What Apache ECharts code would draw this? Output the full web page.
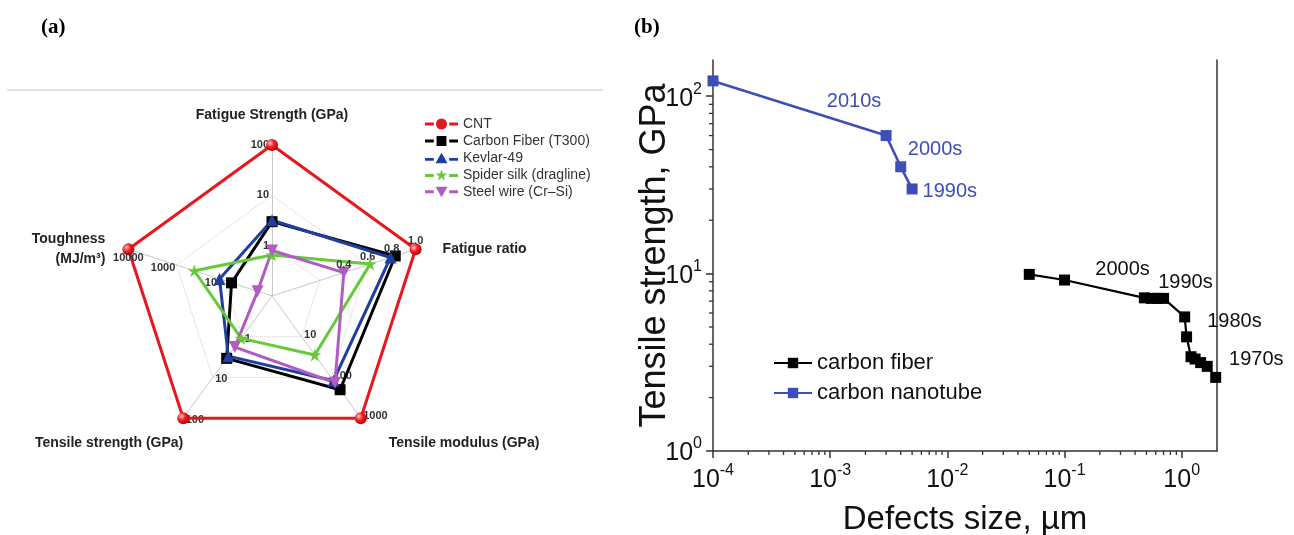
<!DOCTYPE html>
<html>
<head>
<meta charset="utf-8">
<script src="https://cdn.jsdelivr.net/npm/echarts@6/dist/echarts.min.js"></script>
<style>
html,body{margin:0;padding:0;background:#fff;}
#main{width:1294px;height:535px;}
</style>
</head>
<body>
<div id="main"></div>
<script>
//(a) 雷达图数据
var radarNames = ['Fatigue Strength (GPa)', 'Toughness\n(MJ/m³)', 'Tensile strength (GPa)', 'Tensile modulus (GPa)', 'Fatigue ratio'];
var radarIsLog = [true, true, true, true, false];
var radarMin = [0.1, 10, 0.1, 1, -0.2];
var radarMax = [100, 10000, 100, 1000, 1.0];
var materialNames = ['CNT', 'Carbon Fiber (T300)', 'Kevlar-49', 'Spider silk (dragline)', 'Steel wire (Cr–Si)'];
var cntValues = [100, 10000, 100, 1000, 1.0];
var carbonFiberValues = [3.0, 70, 3.4, 200, 0.83];
var kevlarValues = [3.2, 125, 3.0, 120, 0.79];
var spiderSilkValues = [0.65, 420, 1.1, 28, 0.62];
var steelWireValues = [0.8, 20, 1.8, 135, 0.4];
var ratioTicks = [0.4, 0.6, 0.8, 1.0];
var toughnessTopTick = 10000;

//(b) 折线图数据
var fiberX = [0.05, 0.1, 0.48, 0.55, 0.62, 0.7, 1.06, 1.1, 1.2, 1.3, 1.45, 1.65, 1.95];
var fiberY = [9.9, 9.2, 7.3, 7.25, 7.25, 7.25, 5.7, 4.4, 3.4, 3.3, 3.15, 3.0, 2.6];
var tubeX = [1e-4, 3e-3, 4e-3, 5e-3];
var tubeY = [122, 60, 40, 30];
var tubeDecades = ['2010s', '2000s', '1990s'];
var tubeDecadeX = [1.6e-3, 7.85e-3, 1.05e-2];
var tubeDecadeY = [93, 50, 29];
var fiberDecades = ['2000s', '1990s', '1980s', '1970s'];
var fiberDecadeX = [0.313, 1.075, 2.82, 4.33];
var fiberDecadeY = [10.6, 8.95, 5.36, 3.27];
var xTickValues = [1e-4, 1e-3, 1e-2, 1e-1, 1];
var yTickValues = [1, 10, 100];

//颜色
var colors = ['#e8161d', '#000000', '#1f3f9e', '#66c93a', '#b05cc0'];
var tubeColor = '#3d4fb6';

//各轴名称的摆放
var nameLayouts = [
    {align: 'center', verticalAlign: 'bottom', padding: [0, 0, 23, 0]},
    {align: 'right', verticalAlign: 'middle', lineHeight: 20, padding: [0, 23, 12, 0]},
    {align: 'right', verticalAlign: 'top', padding: [18, 0, 0, 0]},
    {align: 'left', verticalAlign: 'top', padding: [18, 0, 0, 28]},
    {align: 'left', verticalAlign: 'middle', padding: [0, 0, 8, 27]}
];

function toAxis(i, v) {
    return radarIsLog[i] ? Math.log10(v) : v;
}
function toRadar(values) {
    return values.map(function (v, i) { return toAxis(i, v); });
}
function powLabel(v) {
    var n = Math.pow(10, v);
    return n >= 1 ? String(Math.round(n)) : String(+n.toFixed(2));
}

//图例图标 (线-符号-线)
var legendIcons = [
    'path://M0,4.2h8v2.6H0z M22,4.2h8v2.6h-8z M10,5.5a5,5 0 1,0 10,0a5,5 0 1,0 -10,0z',
    'path://M0,4.2h8v2.6H0z M22,4.2h8v2.6h-8z M10.5,1h9v9h-9z',
    'path://M0,5.2h8v2.6H0z M22,5.2h8v2.6h-8z M15,0.5L20.5,10H9.5z',
    'path://M0,4.2h8v2.6H0z M22,4.2h8v2.6h-8z M15,0L16.3,3.7L20.3,3.7L17.1,6.1L18.3,10L15,7.6L11.7,10L12.9,6.1L9.7,3.7L13.7,3.7z',
    'path://M0,3.2h8v2.6H0z M22,3.2h8v2.6h-8z M9.5,0h11L15,9.5z'
];
var symbols = [
    'circle',
    'rect',
    'triangle',
    'path://M5,0L6.2,3.6L10,3.6L6.9,5.8L8.1,9.5L5,7.2L1.9,9.5L3.1,5.8L0,3.6L3.8,3.6z',
    'path://M0,0L10,0L5,9z'
];
var symbolSizes = [12, 11, 12, 13, 12];
var materialValues = [cntValues, carbonFiberValues, kevlarValues, spiderSilkValues, steelWireValues];

var myChart = echarts.init(document.getElementById('main'));

var indicators = radarNames.map(function (n, i) {
    return {
        name: n,
        min: toAxis(i, radarMin[i]),
        max: toAxis(i, radarMax[i]),
        nameGap: 0,
        nameMoveOverlap: false,
        nameTextStyle: nameLayouts[i],
        axisLabel: {show: radarIsLog[i], showMaxLabel: i !== 1, formatter: powLabel}
    };
});

var materialData = materialNames.map(function (n, i) {
    return {
        name: n,
        value: toRadar(materialValues[i]),
        symbol: symbols[i],
        symbolSize: symbolSizes[i],
        itemStyle: {
            color: i === 0 ? {
                type: 'radial', x: 0.35, y: 0.35, r: 0.75,
                colorStops: [{offset: 0, color: '#ffc4c4'}, {offset: 0.45, color: '#f01c22'}, {offset: 1, color: '#a80000'}]
            } : colors[i]
        },
        lineStyle: {color: colors[i], width: 3}
    };
});

//单独摆放的刻度标签 (隐藏的雷达序列), dim 为要显示的那一维
var centerValues = radarMin.map(function (v, i) { return toAxis(i, v); });
var tickLabelData = ratioTicks.map(function (t) {
    var v = centerValues.slice();
    v[4] = t;
    return {value: v, dim: 4, text: t.toFixed(1)};
});
(function () {
    var v = centerValues.slice();
    v[1] = toAxis(1, toughnessTopTick);
    tickLabelData.push({value: v, dim: 1, text: String(toughnessTopTick), label: {position: 'bottom', distance: 3}});
})();

function supLabel(v) {
    var e = Math.round(Math.log10(v));
    return '{b|10}{s|' + e + '}';
}
var supRich = {
    b: {fontSize: 25, color: '#111', fontFamily: 'Arial', lineHeight: 30, verticalAlign: 'bottom'},
    s: {fontSize: 16, color: '#111', fontFamily: 'Arial', lineHeight: 16, verticalAlign: 'top'}
};

//次刻度
var minorTicks = [];
[1e-4, 1e-3, 1e-2, 1e-1].forEach(function (d) {
    for (var k = 2; k <= 9; k++) minorTicks.push([k * d, 1, 0]);
});
[1, 10].forEach(function (d) {
    for (var k = 2; k <= 9; k++) minorTicks.push([1e-4, k * d, 1]);
});

var option = {
    animation: false,
    backgroundColor: '#ffffff',
    title: [
        {text: '(a)', left: 36, top: 12, textStyle: {fontFamily: 'Liberation Serif', fontWeight: 'bold', fontSize: 21, color: '#000'}},
        {text: '(b)', left: 629, top: 12, textStyle: {fontFamily: 'Liberation Serif', fontWeight: 'bold', fontSize: 21, color: '#000'}}
    ],
    graphic: [
        {type: 'line', shape: {x1: 7, y1: 90, x2: 603, y2: 90}, style: {stroke: '#c8c8c8', lineWidth: 1.2}}
    ],
    legend: [
        {
            data: materialNames.map(function (n, i) {
                return {name: n, icon: legendIcons[i], itemStyle: {color: colors[i]}};
            }),
            orient: 'vertical', left: 420, top: 112,
            itemWidth: 33, itemHeight: 11, itemGap: 3,
            textStyle: {fontSize: 14, fontFamily: 'Arial', color: '#333'}
        },
        {
            data: ['carbon fiber', 'carbon nanotube'],
            orient: 'vertical', left: 768, top: 347,
            itemWidth: 38, itemHeight: 13, itemGap: 8,
            textStyle: {fontSize: 22, fontFamily: 'Arial', color: '#111'}
        }
    ],
    radar: {
        center: [272, 296],
        radius: 151,
        startAngle: 90,
        splitNumber: 3,
        shape: 'polygon',
        indicator: indicators,
        axisName: {color: '#222', fontSize: 14, fontWeight: 'bold', fontFamily: 'Arial'},
        axisLine: {lineStyle: {color: '#c9c9c9', width: 1}},
        axisTick: {show: false},
        axisLabel: {show: false, showMinLabel: false, fontSize: 11, fontWeight: 'bold', color: '#333', fontFamily: 'Arial', margin: 3},
        splitLine: {lineStyle: {color: '#cfcfcf', type: 'dotted', width: 1}},
        splitArea: {show: false}
    },
    grid: {left: 713, right: 77, top: 60, bottom: 84, outerBoundsMode: 'none'},
    xAxis: {
        type: 'log', logBase: 10, min: 1e-4, max: 2,
        axisLine: {lineStyle: {color: '#333', width: 1.5}},
        axisTick: {length: 7, lineStyle: {color: '#333', width: 1.5}, customValues: xTickValues},
        axisLabel: {formatter: supLabel, rich: supRich, margin: 12, customValues: xTickValues},
        splitLine: {show: false},
        name: 'Defects size, µm', nameLocation: 'middle', nameGap: 52,
        nameTextStyle: {fontSize: 33, fontFamily: 'Arial', color: '#111'}
    },
    yAxis: [
        {
            type: 'log', logBase: 10, min: 1, max: 160,
            axisLine: {lineStyle: {color: '#333', width: 1.5}},
            axisTick: {length: 7, lineStyle: {color: '#333', width: 1.5}, customValues: yTickValues},
            axisLabel: {formatter: supLabel, rich: supRich, margin: 11, customValues: yTickValues},
            splitLine: {show: false},
            name: 'Tensile strength, GPa', nameLocation: 'middle', nameGap: 40, nameMoveOverlap: false,
            nameTextStyle: {fontSize: 36, fontFamily: 'Arial', color: '#111'}
        },
        {
            type: 'log', logBase: 10, min: 1, max: 160, position: 'right',
            axisLine: {show: true, lineStyle: {color: '#333', width: 1.5}},
            axisTick: {show: false}, axisLabel: {show: false}, splitLine: {show: false}
        }
    ],
    series: [
        {
            type: 'radar',
            name: 'tick labels',
            silent: true,
            symbol: 'circle',
            symbolSize: 1,
            itemStyle: {color: 'rgba(0,0,0,0)'},
            lineStyle: {width: 0, opacity: 0},
            label: {
                show: true, position: 'top', distance: 2,
                fontSize: 11, fontWeight: 'bold', color: '#333', fontFamily: 'Arial',
                formatter: function (p) {
                    return p.dimensionIndex === p.data.dim ? p.data.text : '';
                }
            },
            data: tickLabelData
        },
        {
            type: 'radar',
            name: 'materials',
            data: materialData
        },
        {
            type: 'custom',
            name: 'minor ticks',
            silent: true,
            clip: false,
            renderItem: function (params, api) {
                var p = api.coord([api.value(0), api.value(1)]);
                var shape = api.value(2) === 0
                    ? {x1: p[0], y1: p[1], x2: p[0], y2: p[1] + 4}
                    : {x1: p[0] - 4, y1: p[1], x2: p[0], y2: p[1]};
                return {type: 'line', shape: shape, style: {stroke: '#333', lineWidth: 1.3}};
            },
            data: minorTicks
        },
        {
            type: 'line',
            name: 'carbon fiber',
            data: fiberX.map(function (x, i) { return [x, fiberY[i]]; }),
            symbol: 'rect', symbolSize: 11,
            itemStyle: {color: '#000'},
            lineStyle: {color: '#000', width: 2.2}
        },
        {
            type: 'line',
            name: 'carbon nanotube',
            data: tubeX.map(function (x, i) { return [x, tubeY[i]]; }),
            symbol: 'rect', symbolSize: 11,
            itemStyle: {color: tubeColor},
            lineStyle: {color: tubeColor, width: 2.6}
        },
        {
            type: 'scatter',
            name: 'tube decades',
            silent: true, clip: false,
            symbolSize: 0,
            itemStyle: {opacity: 1, color: tubeColor},
            label: {show: true, position: 'inside', formatter: '{b}', fontSize: 20, fontFamily: 'Arial', color: tubeColor},
            data: tubeDecades.map(function (t, i) { return {name: t, value: [tubeDecadeX[i], tubeDecadeY[i]]}; })
        },
        {
            type: 'scatter',
            name: 'fiber decades',
            silent: true, clip: false,
            symbolSize: 0,
            itemStyle: {opacity: 1, color: '#111'},
            label: {show: true, position: 'inside', formatter: '{b}', fontSize: 20, fontFamily: 'Arial', color: '#111'},
            data: fiberDecades.map(function (t, i) { return {name: t, value: [fiberDecadeX[i], fiberDecadeY[i]]}; })
        }
    ]
};

myChart.setOption(option);
</script>
</body>
</html>
